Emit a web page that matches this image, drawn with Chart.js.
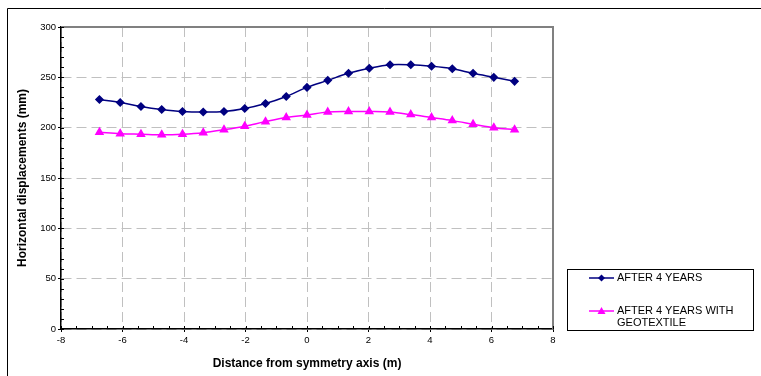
<!DOCTYPE html>
<html>
<head>
<meta charset="utf-8">
<script src="https://cdn.jsdelivr.net/npm/chart.js@4"></script>
<style>
  html, body { margin: 0; padding: 0; background: #fff; }
  #wrap { position: relative; width: 761px; height: 376px; }
  #legend {
    position: absolute; left: 567px; top: 269px; width: 185px; height: 60px;
    border: 1px solid #000; font: 11px "Liberation Sans", Arial, sans-serif; color: #000;
  }
  .item { position: absolute; left: 21px; display: flex; align-items: flex-start; }
  .item svg { flex: none; margin-right: 3px; margin-top: 1px; }
  .item span { line-height: 12px; }
</style>
</head>
<body>
<div id="wrap">
  <canvas id="chart" width="761" height="376"></canvas>
  <div id="legend">
    <div class="item" style="top:1px">
      <svg width="25" height="12"><line x1="0" y1="6" x2="25" y2="6" stroke="#000080" stroke-width="1.5"/><path d="M12.5 2.5 L16 6 L12.5 9.5 L9 6 Z" fill="#000080"/></svg>
      <span>AFTER 4 YEARS</span>
    </div>
    <div class="item" style="top:34px">
      <svg width="25" height="12"><line x1="0" y1="6" x2="25" y2="6" stroke="#ff00ff" stroke-width="1.5"/><path d="M12.5 2 L16.5 9 L8.5 9 Z" fill="#ff00ff"/></svg>
      <span>AFTER 4 YEARS WITH<br>GEOTEXTILE</span>
    </div>
  </div>
</div>
<script>
const distances = [-6.75, -6.075, -5.4, -4.725, -4.05, -3.375, -2.7, -2.025, -1.35, -0.675, 0,
  0.675, 1.35, 2.025, 2.7, 3.375, 4.05, 4.725, 5.4, 6.075, 6.75];
const afterFourYears = [228, 225, 221, 218, 216, 215.5, 216, 219, 224, 231, 240,
  247, 254, 259, 262.5, 262.5, 261, 258.5, 254, 250, 246];
const withGeotextile = [195.5, 194, 193.5, 193, 193.5, 195, 198, 201.5, 206, 210, 212.5,
  215.5, 216, 216, 215.5, 213, 210, 207, 203.5, 200, 198];
const xTicks = [-8, -6, -4, -2, 0, 2, 4, 6, 8];
const yTicks = [0, 50, 100, 150, 200, 250, 300];

const FONT = '"Liberation Sans", Arial, sans-serif';

const toPoints = (ys) => ys.map((y, i) => ({ x: distances[i], y: y }));

const frame = {
  id: 'frame',
  beforeDraw(chart) {
    const ctx = chart.ctx;
    ctx.save();
    ctx.fillStyle = '#fff';
    ctx.fillRect(0, 0, chart.width, chart.height);
    ctx.strokeStyle = '#000';
    ctx.lineWidth = 1;
    ctx.beginPath();
    ctx.moveTo(7.5, chart.height);
    ctx.lineTo(7.5, 8.5);
    ctx.lineTo(chart.width, 8.5);
    ctx.stroke();
    ctx.restore();
  },
  afterDatasetsDraw(chart) {
    const ctx = chart.ctx;
    const a = chart.chartArea;
    const xs = chart.scales.x, ys = chart.scales.y;
    ctx.save();
    // grey plot border on top and right
    ctx.strokeStyle = '#808080';
    ctx.lineWidth = 2;
    ctx.beginPath();
    ctx.moveTo(a.left, a.top);
    ctx.lineTo(a.right, a.top);
    ctx.lineTo(a.right, a.bottom);
    ctx.stroke();
    // minor / inner ticks
    ctx.strokeStyle = '#000';
    ctx.lineWidth = 1;
    ctx.beginPath();
    for (let v = xs.min; v <= xs.max; v += 0.5) {
      const px = Math.round(xs.getPixelForValue(v)) + 0.5;
      ctx.moveTo(px, a.bottom);
      ctx.lineTo(px, a.bottom - 3);
    }
    for (let v = ys.min; v <= ys.max; v += 10) {
      const py = Math.round(ys.getPixelForValue(v)) + 0.5;
      ctx.moveTo(a.left, py);
      ctx.lineTo(a.left + 3, py);
    }
    ctx.stroke();
    ctx.restore();
  }
};

new Chart(document.getElementById('chart').getContext('2d'), {
  type: 'line',
  data: {
    datasets: [
      {
        label: 'AFTER 4 YEARS',
        data: toPoints(afterFourYears),
        borderColor: '#000080',
        backgroundColor: '#000080',
        borderWidth: 1.5,
        pointStyle: 'rectRot',
        pointRadius: 3.5,
        tension: 0.35,
        fill: false
      },
      {
        label: 'AFTER 4 YEARS WITH GEOTEXTILE',
        data: toPoints(withGeotextile),
        borderColor: '#ff00ff',
        backgroundColor: '#ff00ff',
        borderWidth: 1.5,
        pointStyle: 'triangle',
        pointRadius: 4,
        tension: 0.35,
        fill: false
      }
    ]
  },
  options: {
    responsive: false,
    animation: false,
    layout: { padding: { left: 0, top: 27, right: 208, bottom: 0 } },
    plugins: { legend: { display: false }, tooltip: { enabled: false } },
    scales: {
      x: {
        type: 'linear',
        min: -8,
        max: 8,
        afterBuildTicks: (s) => { s.ticks = xTicks.map(v => ({ value: v })); },
        afterFit: (s) => { s.height = 47; },
        ticks: { font: { family: FONT, size: 9.5 }, color: '#000', padding: 3, maxRotation: 0 },
        grid: { color: '#c0c0c0', tickLength: 3, tickColor: '#000', tickBorderDash: [] },
        border: { color: '#000', width: 1.5, dash: [10, 5] },
        title: { display: true, text: 'Distance from symmetry axis (m)', font: { family: FONT, size: 12, weight: 'bold' }, color: '#000', padding: { top: 4, bottom: 5 } }
      },
      y: {
        min: 0,
        max: 300,
        afterBuildTicks: (s) => { s.ticks = yTicks.map(v => ({ value: v })); },
        afterFit: (s) => { s.width = 61; },
        ticks: { font: { family: FONT, size: 9.5 }, color: '#000', padding: 2 },
        grid: { color: '#c0c0c0', tickLength: 3, tickColor: '#000', tickBorderDash: [] },
        border: { color: '#000', width: 1.5, dash: [10, 5] },
        title: { display: true, text: 'Horizontal displacements (mm)', font: { family: FONT, size: 12, weight: 'bold' }, color: '#000', padding: { top: 15, bottom: 0 } }
      }
    }
  },
  plugins: [frame]
});
</script>
</body>
</html>
